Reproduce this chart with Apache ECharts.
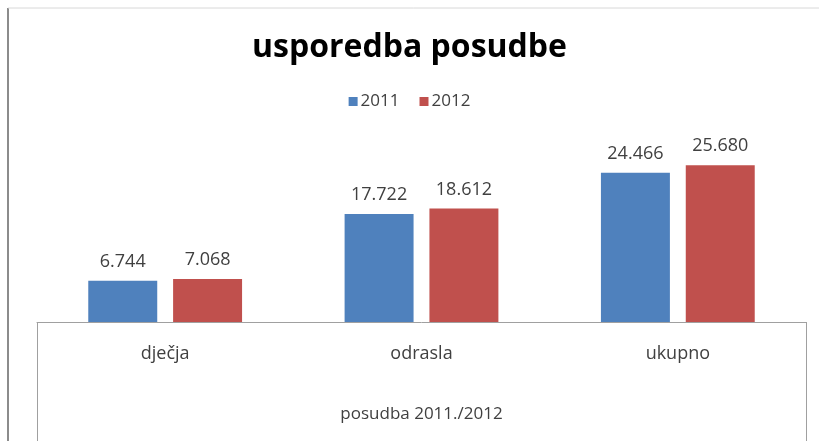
<!DOCTYPE html>
<html>
<head>
<meta charset="utf-8">
<script src="https://cdn.jsdelivr.net/npm/echarts@6/dist/echarts.min.js"></script>
<style>
  html, body { margin: 0; padding: 0; background: #fff; }
  #chart { width: 819px; height: 441px; }
</style>
</head>
<body>
<div id="chart"></div>
<script>
const categories = ['dječja', 'odrasla', 'ukupno'];
const seriesNames = ['2011', '2012'];
const values2011 = [6744, 17722, 24466];
const values2012 = [7068, 18612, 25680];
const colors = ['#4F81BD', '#C0504D'];

// hrvatski zapis: točka kao separator tisućica
function fmt(v) {
    return String(v).replace(/\B(?=(\d{3})+(?!\d))/g, '.');
}

const chart = echarts.init(document.getElementById('chart'));
const font = 'Open Sans';

const labelCfg = {
    show: true,
    position: 'top',
    distance: 10,
    color: '#404040',
    fontFamily: font,
    fontSize: 18,
    formatter: function (p) { return fmt(p.value); }
};

const option = {
    animation: false,
    color: colors,
    title: {
        text: 'usporedba posudbe',
        left: 'center',
        top: 27,
        textStyle: {
            fontFamily: font,
            fontWeight: 'bold',
            fontSize: 32,
            color: '#000'
        }
    },
    legend: {
        top: 88,
        left: 'center',
        icon: 'rect',
        itemWidth: 9,
        itemHeight: 9,
        itemGap: 20,
        textStyle: { fontFamily: font, fontSize: 17, color: '#404040', padding: [0, 0, 0, -2] },
        data: seriesNames
    },
    grid: {
        left: 37,
        right: 13,
        top: 139,
        bottom: 119
    },
    xAxis: {
        type: 'category',
        data: categories,
        axisLine: { show: true, lineStyle: { color: '#a0a0a0', width: 1 } },
        axisTick: { show: false },
        axisLabel: { fontFamily: font, fontSize: 18, color: '#404040', margin: 23 },
        name: 'posudba 2011./2012',
        nameLocation: 'middle',
        nameGap: 84,
        nameTextStyle: { fontFamily: font, fontSize: 17, color: '#404040' }
    },
    yAxis: {
        type: 'value',
        min: 0,
        max: 30000,
        show: false,
        splitLine: { show: false }
    },
    graphic: [
        {
            type: 'line',
            shape: { x1: 8, y1: 8, x2: 8, y2: 441 },
            style: { stroke: '#8c8c8c', lineWidth: 2 }
        },
        {
            type: 'line',
            shape: { x1: 8, y1: 8, x2: 819, y2: 8 },
            style: { stroke: '#d8d8d8', lineWidth: 1 }
        },
        {
            type: 'line',
            shape: { x1: 37.5, y1: 322, x2: 37.5, y2: 441 },
            style: { stroke: '#a0a0a0', lineWidth: 1 }
        },
        {
            type: 'line',
            shape: { x1: 806.5, y1: 322, x2: 806.5, y2: 441 },
            style: { stroke: '#a0a0a0', lineWidth: 1 }
        }
    ],
    series: [
        {
            name: seriesNames[0],
            type: 'bar',
            data: values2011,
            barGap: '23%',
            barCategoryGap: '40%',
            label: labelCfg
        },
        {
            name: seriesNames[1],
            type: 'bar',
            data: values2012,
            barGap: '23%',
            barCategoryGap: '40%',
            label: labelCfg
        }
    ]
};

chart.setOption(option);
</script>
</body>
</html>
